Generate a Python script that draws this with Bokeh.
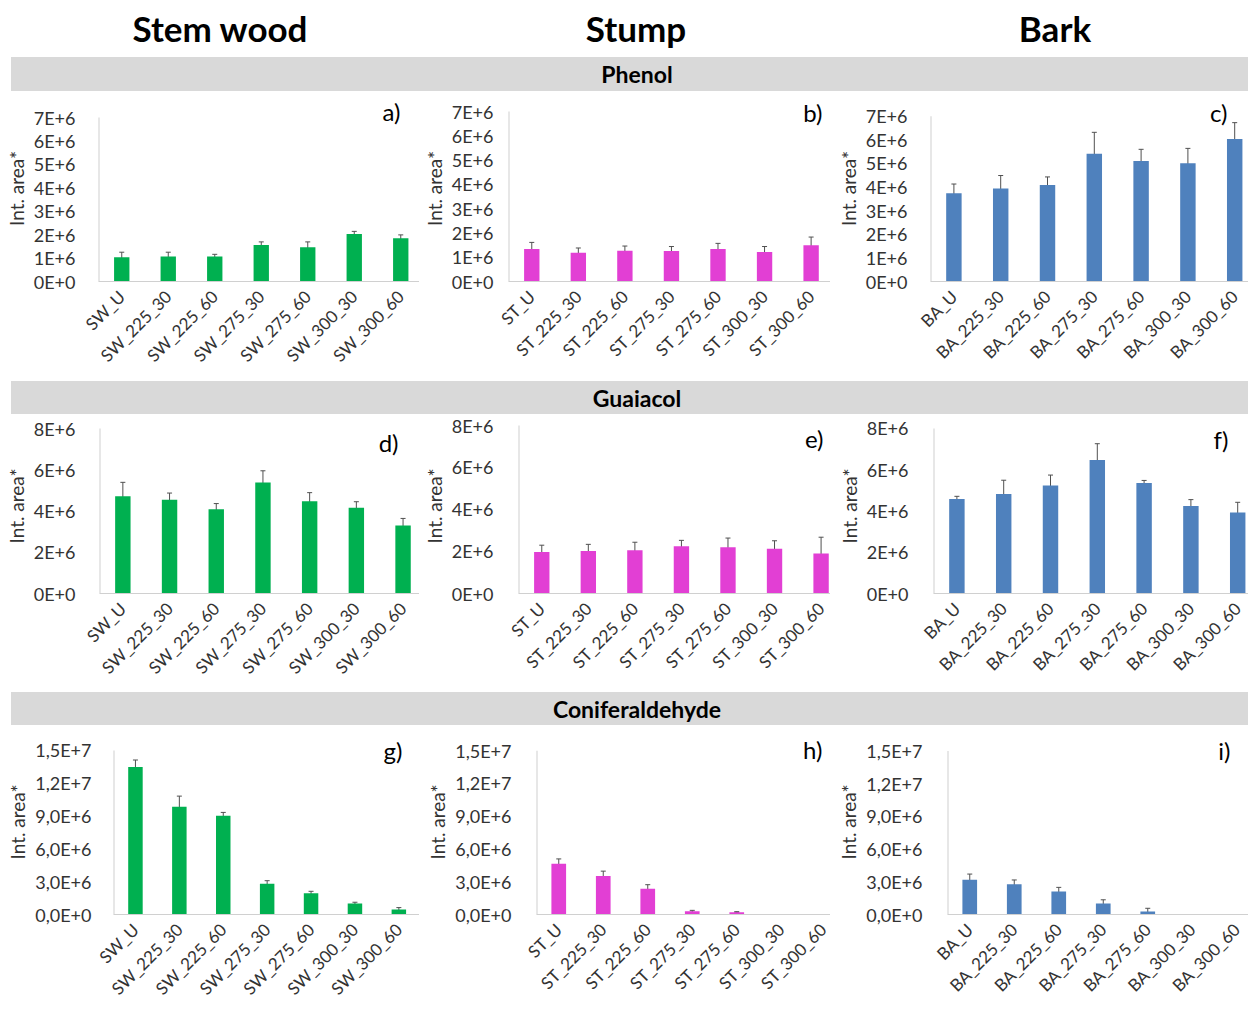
from bokeh.plotting import figure
from bokeh.models import (Div, ColumnDataSource, Whisker, TeeHead, FixedTicker,
                          CustomJSTickFormatter, Range1d, Label)
from bokeh.layouts import column, row
from bokeh.embed import file_html
from bokeh.resources import INLINE
import math

# ---------------- data ----------------
col_titles = ["Stem wood", "Stump", "Bark"]
compounds = ["Phenol", "Guaiacol", "Coniferaldehyde"]

sw_cats = ["SW_U", "SW_225_30", "SW_225_60", "SW_275_30", "SW_275_60", "SW_300_30", "SW_300_60"]
st_cats = ["ST_U", "ST_225_30", "ST_225_60", "ST_275_30", "ST_275_60", "ST_300_30", "ST_300_60"]
ba_cats = ["BA_U", "BA_225_30", "BA_225_60", "BA_275_30", "BA_275_60", "BA_300_30", "BA_300_60"]

# Phenol
phenol_sw = [1.04e6, 1.07e6, 1.07e6, 1.56e6, 1.46e6, 2.03e6, 1.85e6]
phenol_sw_err = [0.21e6, 0.18e6, 0.09e6, 0.13e6, 0.23e6, 0.11e6, 0.14e6]
phenol_st = [1.34e6, 1.18e6, 1.27e6, 1.26e6, 1.34e6, 1.21e6, 1.49e6]
phenol_st_err = [0.27e6, 0.20e6, 0.19e6, 0.18e6, 0.23e6, 0.23e6, 0.34e6]
phenol_ba = [3.74e6, 3.94e6, 4.09e6, 5.41e6, 5.11e6, 5.01e6, 6.04e6]
phenol_ba_err = [0.39e6, 0.55e6, 0.34e6, 0.91e6, 0.49e6, 0.63e6, 0.69e6]

# Guaiacol
guaiacol_sw = [4.71e6, 4.55e6, 4.08e6, 5.38e6, 4.47e6, 4.16e6, 3.30e6]
guaiacol_sw_err = [0.68e6, 0.32e6, 0.28e6, 0.57e6, 0.42e6, 0.29e6, 0.34e6]
guaiacol_st = [1.98e6, 2.02e6, 2.06e6, 2.25e6, 2.20e6, 2.13e6, 1.91e6]
guaiacol_st_err = [0.32e6, 0.32e6, 0.38e6, 0.28e6, 0.44e6, 0.38e6, 0.77e6]
guaiacol_ba = [4.58e6, 4.82e6, 5.24e6, 6.47e6, 5.35e6, 4.24e6, 3.92e6]
guaiacol_ba_err = [0.13e6, 0.67e6, 0.50e6, 0.79e6, 0.13e6, 0.31e6, 0.50e6]

# Coniferaldehyde
conif_sw = [13.48e6, 9.85e6, 9.03e6, 2.82e6, 1.94e6, 1.00e6, 0.45e6]
conif_sw_err = [0.64e6, 0.97e6, 0.30e6, 0.27e6, 0.18e6, 0.12e6, 0.18e6]
conif_st = [4.65e6, 3.53e6, 2.35e6, 0.29e6, 0.21e6, 0.0, 0.0]
conif_st_err = [0.44e6, 0.44e6, 0.38e6, 0.09e6, 0.05e6, 0.0, 0.0]
conif_ba = [3.20e6, 2.78e6, 2.10e6, 1.02e6, 0.27e6, 0.0, 0.0]
conif_ba_err = [0.51e6, 0.39e6, 0.39e6, 0.33e6, 0.30e6, 0.0, 0.0]

ticks_phenol = [0.0, 1e6, 2e6, 3e6, 4e6, 5e6, 6e6, 7e6]
labels_phenol = ["0E+0", "1E+6", "2E+6", "3E+6", "4E+6", "5E+6", "6E+6", "7E+6"]
ticks_guaiacol = [0.0, 2e6, 4e6, 6e6, 8e6]
labels_guaiacol = ["0E+0", "2E+6", "4E+6", "6E+6", "8E+6"]
ticks_conif = [0.0, 3e6, 6e6, 9e6, 12e6, 15e6]
labels_conif = ["0,0E+0", "3,0E+6", "6,0E+6", "9,0E+6", "1,2E+7", "1,5E+7"]

panel_letters = ["a)", "b)", "c)", "d)", "e)", "f)", "g)", "h)", "i)"]

# ---------------- styling / layout ----------------
FONT = "Lato"
TXT = "#333333"
COLORS = ["#00b050", "#e23fd4", "#4f81bd"]
PAGE_W = 1248
COL_W = [419, 411, 418]
COL_LEFT = [0, 419, 830]          # page x of each column
ROW_TOP = [91, 414, 725]          # page y of each row
ROW_H = [290, 278, 284]

# geometry per panel (page px): axis_x, spacing, y_top_tick, y_zero, letter_right, letter_cy, label_gap
GEOM = [
    [(98, 46.5, 117, 281, 400, 111, 17), (507, 46.7, 111, 281, 822, 112, 9), (930, 46.8, 116, 283, 1227, 112, 17)],
    [(99, 46.7, 428, 593, 398, 442, 18), (517, 46.7, 425, 594, 823, 438, 19), (933, 46.8, 428, 594, 1228, 439, 19)],
    [(113, 43.9, 750, 915, 402, 750, 16), (536, 44.5, 751, 921, 822, 750, 19), (947, 44.5, 751, 918, 1230, 750, 19)],
]


def make_formatter(tk, lb):
    return CustomJSTickFormatter(args=dict(tk=tk, lb=lb), code="""
        for (let i = 0; i < tk.length; i++) {
            if (Math.abs(tk[i] - tick) <= 1e-6 * Math.max(1, Math.abs(tk[i]))) return lb[i];
        }
        return '';
    """)


def make_panel(cats, vals, errs, color, ticks, tick_labels, letter, r, c):
    W, H = COL_W[c], ROW_H[r]
    ax, sp, ytop, y0, lr, lcy, gap = GEOM[r][c]
    ax -= COL_LEFT[c]; lr -= COL_LEFT[c]
    ytop -= ROW_TOP[r]; y0 -= ROW_TOP[r]; lcy -= ROW_TOP[r]
    frame_top = 4
    ymax = ticks[-1]
    unit = ymax / (y0 - ytop)
    y_end = (y0 - frame_top) * unit
    x_end = -0.5 + (W - ax) / sp

    p = figure(width=W, height=H, x_range=Range1d(-0.5, x_end), y_range=Range1d(0, y_end),
               min_border_left=ax, min_border_right=0, min_border_top=frame_top,
               min_border_bottom=H - y0, output_backend="svg", toolbar_location=None,
               outline_line_color=None, background_fill_color="white", border_fill_color="white")
    p.xgrid.visible = False
    p.ygrid.visible = False

    xs = list(range(len(cats)))
    p.vbar(x=xs, top=vals, width=0.33, fill_color=color, line_color=None)

    keep = [i for i in xs if vals[i] > 0]
    src = ColumnDataSource(dict(x=[xs[i] for i in keep],
                                upper=[vals[i] + errs[i] for i in keep],
                                lower=[vals[i] - errs[i] for i in keep]))
    wk = Whisker(source=src, base="x", upper="upper", lower="lower",
                 line_color="#505050", line_width=1,
                 upper_head=TeeHead(size=5, line_color="#505050", line_width=1),
                 lower_head=TeeHead(size=5, line_color="#505050", line_width=1))
    p.add_layout(wk)

    # y axis line only up to the top tick (as in the original)
    p.segment(x0=[-0.5], y0=[0], x1=[-0.5], y1=[ymax], line_color="#d0d0d0", line_width=2)

    yax = p.yaxis[0]
    yax.ticker = FixedTicker(ticks=ticks)
    yax.formatter = make_formatter(ticks, tick_labels)
    yax.axis_line_color = None
    yax.major_tick_line_color = None
    yax.minor_tick_line_color = None
    yax.major_label_text_font = FONT
    yax.major_label_text_font_size = "18px"
    yax.major_label_text_color = TXT
    yax.major_label_standoff = gap
    yax.axis_label = "Int. area*"
    yax.axis_label_text_font = FONT
    yax.axis_label_text_font_size = "19px"
    yax.axis_label_text_font_style = "normal"
    yax.axis_label_text_color = TXT
    yax.axis_label_standoff = 3

    xax = p.xaxis[0]
    xax.ticker = FixedTicker(ticks=xs)
    xax.formatter = CustomJSTickFormatter(args=dict(cats=cats),
                                          code="const i = Math.round(tick); return (i >= 0 && i < cats.length) ? cats[i] : '';")
    xax.major_label_orientation = math.pi / 4
    xax.axis_line_color = "#d0d0d0"
    xax.major_tick_line_color = None
    xax.minor_tick_line_color = None
    xax.major_label_text_font = FONT
    xax.major_label_text_font_size = "17px"
    xax.major_label_text_color = TXT
    xax.major_label_standoff = 6

    p.add_layout(Label(x=-0.5 + (lr - ax) / sp, y=(y0 - lcy) * unit, text=letter,
                       text_align="right", text_baseline="middle", text_font=FONT,
                       text_font_size="24px", text_color="#000000"))
    return p


def band(name, h):
    html = (f'<div style="position:relative;width:{PAGE_W}px;height:{h}px;">'
            f'<div style="position:absolute;left:11px;top:0;width:{PAGE_W - 11}px;height:{h}px;background:#d9d9d9;"></div>'
            f'<div style="position:absolute;left:637px;top:{h / 2}px;transform:translate(-50%,-50%);'
            f'font-family:Lato;font-weight:bold;font-size:23px;color:#000;white-space:nowrap;">{name}</div></div>')
    return Div(text=html, width=PAGE_W, height=h, margin=0)


title_x = [220, 636, 1055]
title_html = '<div style="position:relative;width:%dpx;height:57px;">' % PAGE_W
for t, x in zip(col_titles, title_x):
    title_html += (f'<div style="position:absolute;left:{x}px;top:28px;transform:translate(-50%,-50%);'
                   f'font-family:Lato;font-weight:bold;font-size:35px;color:#000;white-space:nowrap;">{t}</div>')
title_html += '</div>'
title_div = Div(text=title_html, width=PAGE_W, height=57, margin=0)

cats_all = [sw_cats, st_cats, ba_cats]
data = [
    [(phenol_sw, phenol_sw_err), (phenol_st, phenol_st_err), (phenol_ba, phenol_ba_err)],
    [(guaiacol_sw, guaiacol_sw_err), (guaiacol_st, guaiacol_st_err), (guaiacol_ba, guaiacol_ba_err)],
    [(conif_sw, conif_sw_err), (conif_st, conif_st_err), (conif_ba, conif_ba_err)],
]
ticks_all = [(ticks_phenol, labels_phenol), (ticks_guaiacol, labels_guaiacol), (ticks_conif, labels_conif)]
band_h = [34, 33, 33]

items = [title_div]
for r in range(3):
    items.append(band(compounds[r], band_h[r]))
    figs = []
    for c in range(3):
        v, e = data[r][c]
        figs.append(make_panel(cats_all[c], v, e, COLORS[c], ticks_all[r][0], ticks_all[r][1],
                               panel_letters[r * 3 + c], r, c))
    items.append(row(*figs, spacing=0))

layout = column(*items, spacing=0)

with open("out.html", "w") as f:
    f.write(file_html(layout, INLINE, title="Int. area"))
